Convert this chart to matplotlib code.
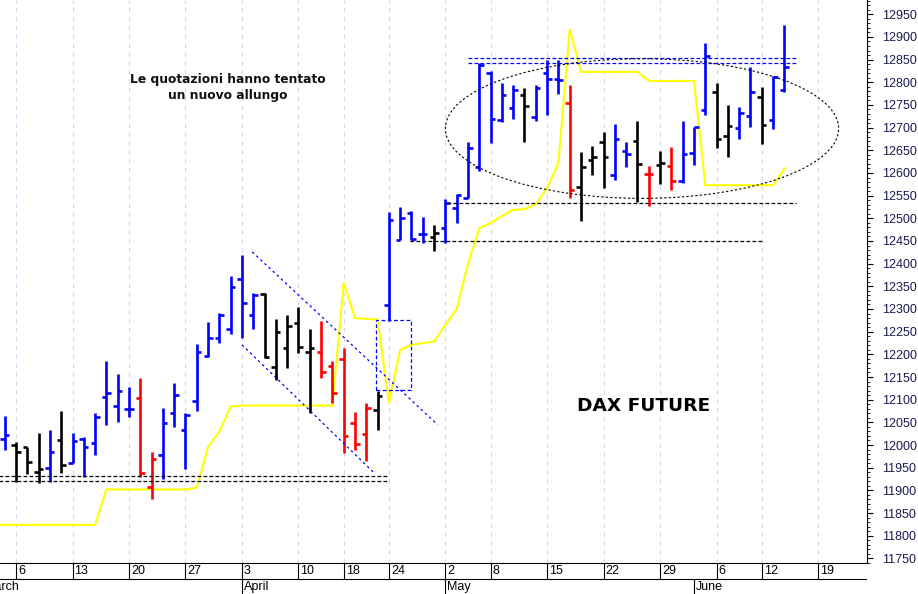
import matplotlib
matplotlib.use('Agg')
import matplotlib.pyplot as plt
from matplotlib.patches import Ellipse, Rectangle
import numpy as np

# trading-day index, 0 = Monday 6 March 2017 (holidays skipped)
days = list(range(-1, 69))
opens = [12013, 12000, 11995, 11940, 11950, 12012, 11961, 12013, 12004, 12105,
         12086, 12080, 12103, 11908, 11978, 12071, 12034, 12096, 12197, 12237,
         12255, 12366, 12287, 12334, 12171, 12215, 12270, 12206, 12206, 12174,
         12190, 12048, 12024, 12077, 12309, 12452, 12511, 12465, 12458, 12478,
         12522, 12545, 12614, 12820, 12717, 12743, 12772, 12724, 12820, 12807,
         12755, 12570, 12629, 12669, 12596, 12648, 12671, 12598, 12618, 12615,
         12583, 12645, 12739, 12779, 12681, 12699, 12726, 12767, 12717, 12784]
highs = [12065, 12007, 11996, 12026, 12033, 12074, 12026, 12017, 12070, 12185,
         12156, 12129, 12147, 11985, 12081, 12137, 12071, 12223, 12272, 12292,
         12373, 12419, 12335, 12336, 12277, 12286, 12304, 12255, 12274, 12185,
         12215, 12072, 12093, 12119, 12515, 12524, 12517, 12504, 12485, 12542,
         12554, 12669, 12843, 12825, 12798, 12794, 12787, 12794, 12849, 12849,
         12794, 12647, 12660, 12691, 12708, 12669, 12715, 12615, 12649, 12657,
         12715, 12702, 12886, 12798, 12750, 12746, 12833, 12789, 12814, 12926]
lows = [11990, 11919, 11937, 11916, 11919, 11938, 11960, 11930, 11978, 12044,
        12051, 12061, 11929, 11880, 11926, 12040, 11947, 12074, 12195, 12224,
        12245, 12235, 12255, 12193, 12143, 12169, 12202, 12071, 12147, 12093,
        11983, 11990, 11965, 12033, 12274, 12452, 12452, 12446, 12428, 12446,
        12490, 12544, 12605, 12667, 12713, 12718, 12669, 12715, 12728, 12774,
        12544, 12493, 12596, 12566, 12585, 12614, 12537, 12527, 12576, 12563,
        12577, 12618, 12728, 12654, 12636, 12674, 12701, 12664, 12696, 12779]
closes = [12022, 11985, 11962, 11948, 11985, 11956, 12009, 11996, 12062, 12115,
          12119, 12080, 11938, 11969, 12049, 12110, 12066, 12206, 12235, 12287,
          12349, 12313, 12330, 12195, 12250, 12263, 12217, 12213, 12160, 12115,
          12019, 12002, 12081, 12108, 12496, 12500, 12454, 12465, 12467, 12533,
          12552, 12654, 12838, 12718, 12772, 12782, 12748, 12787, 12807, 12805,
          12563, 12614, 12635, 12636, 12674, 12641, 12620, 12598, 12623, 12582,
          12642, 12701, 12858, 12674, 12704, 12732, 12779, 12706, 12812, 12834]
# b = blue, k = black, r = red, one letter per bar
bar_col = list('bkkkbkbbbbbb' + 'rr' + 'bbbbbbbbb' + 'kkkkk' + 'rrrrr' + 'k'
               + 'bbbb' + 'k' + 'bbbbbbb' + 'k' + 'bbb' + 'r' + 'kkk' + 'bb'
               + 'k' + 'r' + 'k' + 'r' + 'bbb' + 'kk' + 'bb' + 'k' + 'bb')

yellow_days = list(range(-2, 69))
yellow = [11824, 11824] + [11824] * 8 + [11902] * 8 + [11906, 11996, 12030, 12085] \
    + [12087] * 9 + [12357, 12280, 12278, 12277, 12093, 12210, 12221, 12225, 12228,
                     12265, 12300, 12400, 12478, 12490, 12505, 12519, 12520, 12531,
                     12567, 12622, 12917] \
    + [12823] * 6 + [12803] * 5 + [12573] * 7 + [12610]

week_pos = [0, 5, 10, 15, 20, 25, 29, 33, 38, 42, 47, 52, 57, 62, 66, 71]
week_lab = ['6', '13', '20', '27', '3', '10', '18', '24', '2', '8', '15', '22', '29', '6', '12', '19']
month_pos = [-3, 20, 38, 60]
month_lab = ['March', 'April', 'May', 'June']

colmap = {'b': '#0000ff', 'k': '#000000', 'r': '#ff0000'}
cols = [colmap[c] for c in bar_col]
d = np.array(days)
XL = (-1.416, 75.31)

fig = plt.figure(figsize=(9.18, 5.94), dpi=100)
ax = fig.add_axes([0, 31 / 594, 867 / 918, 563 / 594])
ax.set_xlim(*XL)
ax.set_ylim(11739.8, 12981.5)

for p in week_pos:
    ax.axvline(p, color='#d4d4f2', lw=0.8, ls=(0, (4, 4)), zorder=0)

ax.plot(yellow_days, yellow, color='#ffff00', lw=1.5, zorder=2)

ax.vlines(d, lows, highs, colors=cols, lw=1.9, zorder=3)
ax.hlines(opens, d - 0.4, d, colors=cols, lw=1.9, zorder=3)
ax.hlines(closes, d, d + 0.4, colors=cols, lw=1.9, zorder=3)

# annotations
dash = (0, (3, 1.8))
ax.hlines([11932, 11921], -2, 33, colors='k', lw=0.9, linestyles=[dash], zorder=4)
ax.hlines([12853, 12843], 40, 69, colors='#0000ff', lw=0.9, linestyles=[dash], zorder=4)
ax.hlines([12533], 38.1, 69, colors='k', lw=0.9, linestyles=[dash], zorder=4)
ax.hlines([12449], 34.9, 66, colors='k', lw=0.9, linestyles=[dash], zorder=4)
ax.plot([20.9, 37.3], [12426, 12045], color='#0000ff', lw=0.9, ls=(0, (2, 2.5)), zorder=4)
ax.plot([20.0, 31.8], [12221, 11936], color='#0000ff', lw=0.9, ls=(0, (2, 2.5)), zorder=4)
ax.add_patch(Rectangle((31.9, 12121), 3.1, 155, fill=False, edgecolor='#0000ff',
                       lw=0.9, ls=(0, (3, 2)), zorder=4))
ax.add_patch(Ellipse((55.4, 12698), 34.8, 308, fill=False, edgecolor='k',
                     lw=0.8, ls=(0, (2, 2)), zorder=4))

ax.text(18.76, 12788, 'Le quotazioni hanno tentato\nun nuovo allungo', ha='center',
        va='center', fontsize=8.8, fontweight='bold', family='DejaVu Sans',
        linespacing=1.35, color='#111111')
ax.text(55.5, 12086, 'DAX FUTURE', ha='center', va='center', fontsize=13.3,
        fontweight='bold', family='DejaVu Sans', color='k')

ax.yaxis.tick_right()
ax.set_yticks(range(11750, 12951, 50))
ax.set_yticks(range(11740, 12981, 10), minor=True)
ax.tick_params(axis='y', which='major', length=4, width=0.8, pad=7,
               labelsize=9, labelcolor='#1a1a50')
ax.tick_params(axis='y', which='minor', length=2.2, width=0.6)
for lab in ax.get_yticklabels():
    lab.set_family('Liberation Sans')
ax.set_xticks([])
ax.spines['top'].set_visible(False)
ax.spines['left'].set_visible(False)
ax.spines['right'].set_linewidth(0.8)
ax.spines['bottom'].set_linewidth(0.8)

# date rows under the chart
bx = fig.add_axes([0, 0, 867 / 918, 31 / 594])
bx.set_xlim(*XL)
bx.set_ylim(0, 31)
bx.axis('off')
bx.axhline(15, color='k', lw=0.8)
bx.vlines(week_pos, 15, 31, colors='k', lw=0.8)
for p, lab in zip(week_pos, week_lab):
    bx.text(p + 0.18, 23, lab, ha='left', va='center', fontsize=9,
            family='Liberation Sans', clip_on=True)
bx.vlines(month_pos, 0, 15, colors='k', lw=0.8)
# "March" starts left of the chart and is cut at the edge, as in the original
for p, lab in zip(month_pos, month_lab):
    bx.text(p + 0.18, 7, lab, ha='left', va='center', fontsize=9,
            family='Liberation Sans', clip_on=True)

fig.savefig('out.png', dpi=100)
